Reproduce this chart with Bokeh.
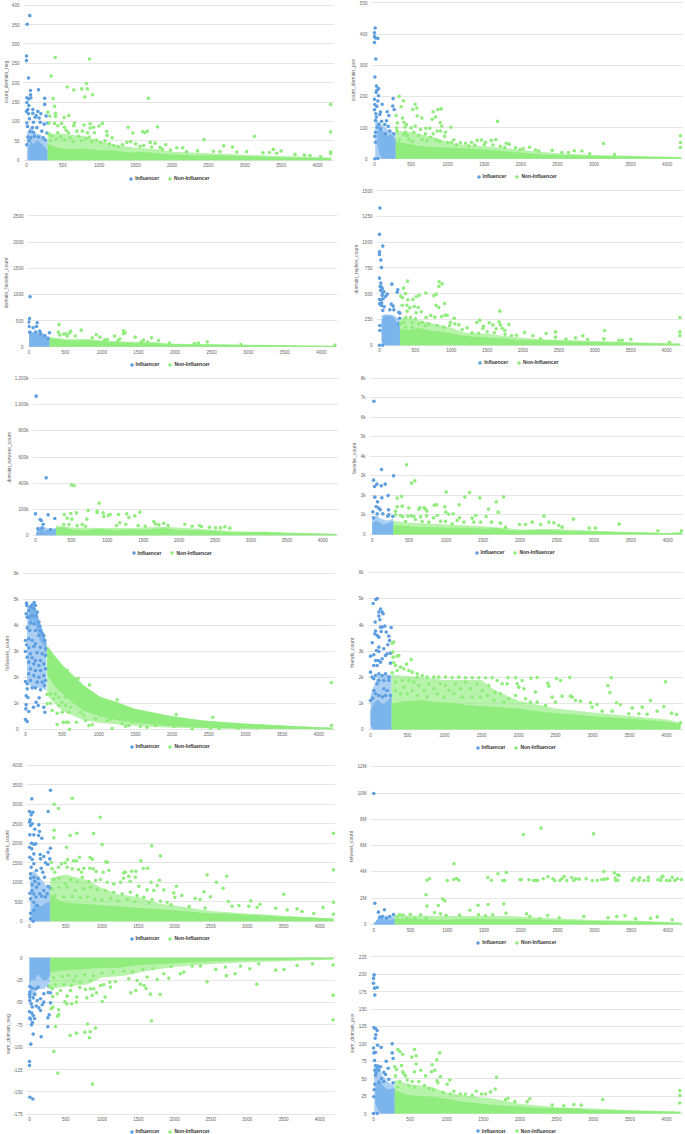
from bokeh.plotting import figure
from bokeh.models import Range1d, FixedTicker, Legend, LegendItem, Title
from bokeh.layouts import row, column
from bokeh.embed import file_html
from bokeh.resources import INLINE

SERIES = ["Influencer", "Non-Influencer"]
X_TICKS = [0, 500, 1000, 1500, 2000, 2500, 3000, 3500, 4000]

# ---- points are (x, y); fills are (x, low, high) for regions too dense to separate;
# ---- haze rows are (x, low, high) for the speckled, half-covered regions around them
P1_NAME = "count_domain_neg"
P1_TICKS = [0, 50, 100, 150, 200, 250, 300, 350, 400]
P1_LABELS = ["0", "50", "100", "150", "200", "250", "300", "350", "400"]
P1_INF = [(45,373),(10,351),(0,269),(0,257),(27,212),(55,180),(165,182),(250,160),(250,144),(55,169),(32,158),(5,161),(60,161),(5,149),(32,141),(18,131),(0,126),(27,120),(87,131),(87,121),(155,126),(197,120),(270,114),(133,115),(120,111),(174,109),(41,107),(96,98),(188,98),(293,96),(243,93),(5,96),(14,87),(82,84),(142,84),(210,75),(96,72),(50,74),(280,70),(20,60),(60,58),(110,62),(165,60),(230,58),(5,40),(260,52),(35,50)]
P1_NON = [(394,265),(866,261),(339,217),(824,198),(559,189),(650,181),(760,184),(838,184),(801,163),(907,169),(366,159),(385,139),(398,121),(293,124),(320,114),(398,113),(582,115),(517,110),(1676,160),(4181,144),(4181,73),(1800,86),(1397,85),(1461,70),(1594,74),(1626,71),(1662,75),(2441,53),(3133,62),(3394,28),(3499,24),(4181,21),(4181,17),(2830,34),(2711,37),(660,96),(650,89),(792,91),(875,94),(921,85),(998,88),(1044,95),(875,83),(311,96),(385,95),(430,89),(481,95),(522,85),(692,75),(769,75),(545,77),(577,71),(838,71),(934,71),(1104,74),(1108,64),(1177,58),(430,71),(311,68),(348,62),(1914,40),(1768,44),(1837,33),(2066,32),(2148,32),(2570,23),(2890,21),(3027,22),(3339,20),(3440,18),(3691,15),(3820,13),(3898,12),(4044,9),(330,50),(410,55),(470,60),(520,52),(600,58),(640,48),(720,62),(755,50),(815,56),(860,60),(900,48),(960,52),(1020,45),(1080,50),(1140,42),(1200,38),(1260,35),(1320,40),(1380,46),(1430,48),(1500,42),(1560,36),(1610,38),(1700,46),(1720,34),(1870,28),(1980,26),(2200,22),(2350,24),(2660,22),(3250,19)]
P1_INF_FILL = [(25,0,30),(60,0,48),(100,0,42),(150,0,52),(190,0,46),(230,0,38),(270,0,28),(290,0,26)]
P1_NON_FILL = [(290,0,42),(400,0,34),(500,0,30),(620,0,28),(800,0,30),(1000,0,26),(1200,0,25),(1400,0,20),(1600,0,22),(1800,0,17),(2000,0,15),(2300,0,13),(2600,0,13),(3000,0,10),(3300,0,9),(3600,0,7),(4000,0,6),(4190,0,5)]
P1_INF_HAZE = [(5,0,70),(50,0,85),(120,0,70),(200,0,65),(290,0,50)]
P1_NON_HAZE = [(290,0,68),(500,0,68),(800,0,62),(1000,0,50),(1200,0,40),(1500,0,32),(1800,0,28),(2000,0,22),(2500,0,18),(3000,0,14),(3500,0,11),(4190,0,7)]

P2_NAME = "count_domain_pos"
P2_TICKS = [0, 100, 200, 300, 400, 500]
P2_LABELS = ["0", "100", "200", "300", "400", "500"]
P2_INF = [(9,419),(0,404),(0,392),(46,386),(14,387),(0,373),(18,320),(5,262),(27,233),(55,225),(32,219),(23,213),(55,202),(255,193),(0,191),(46,185),(105,175),(5,174),(32,168),(250,169),(269,158),(0,157),(173,151),(82,150),(18,144),(196,139),(73,142),(27,134),(164,122),(96,120),(14,123),(5,0),(46,1),(59,110),(141,110),(187,104),(36,101),(82,96),(210,89),(264,80),(150,80),(14,85),(14,53),(5,72)]
P2_NON = [(337,200),(396,186),(556,175),(364,167),(579,163),(524,158),(866,158),(911,160),(802,151),(296,139),(583,137),(647,131),(834,134),(788,127),(383,131),(1681,120),(401,117),(437,110),(898,116),(314,115),(920,105),(1043,101),(301,99),(415,101),(4182,74),(4182,52),(4182,36),(3130,49),(2729,26),(2834,25),(556,105),(501,99),(702,98),(756,98),(629,94),(857,89),(538,85),(310,89),(424,85),(902,89),(970,85),(697,80),(802,80),(446,75),(401,78),(606,75),(765,69),(957,72),(1084,61),(1052,53),(1326,53),(1403,59),(1462,60),(1517,53),(1595,59),(1658,62),(1800,50),(1840,47),(1244,50),(1175,51),(1927,35),(2032,32),(2118,37),(2428,27),(2246,25),(340,60),(470,62),(520,56),(650,62),(720,58),(840,60),(890,55),(1000,52),(1120,44),(1290,42),(1370,44),(1500,45),(1620,44),(1720,40),(1780,36),(1990,30),(2200,28),(2560,20),(2650,20),(2940,16),(3280,14)]
P2_INF_FILL = [(40,45,85),(70,15,105),(100,0,95),(140,0,80),(180,0,72),(220,0,80),(260,0,70),(290,0,62)]
P2_NON_FILL = [(290,0,55),(420,0,50),(600,0,42),(800,0,38),(1000,0,36),(1200,0,34),(1500,0,30),(1700,0,26),(2000,0,20),(2300,0,14),(2600,0,12),(2900,0,10),(3200,0,9),(3500,0,8),(3800,0,6),(4190,0,5)]
P2_INF_HAZE = [(10,0,135),(50,0,120),(100,0,110),(200,0,90),(290,0,80)]
P2_NON_HAZE = [(290,0,90),(500,0,85),(800,0,70),(1000,0,55),(1200,0,45),(1500,0,40),(1800,0,35),(2000,0,28),(2500,0,18),(3000,0,12),(3500,0,10),(4190,0,6)]

P3_NAME = "domain_favorite_count"
P3_TICKS = [0, 500, 1000, 1500, 2000, 2500, 3000]
P3_LABELS = ["0", "500", "1000", "1500", "2000", "2500", "3000"]
P3_INF = [(14,2640),(18,954),(9,541),(0,471),(114,458),(5,388),(105,388),(59,363),(150,299),(95,280),(282,267),(164,248),(218,216),(14,280),(264,153)]
P3_NON = [(414,426),(718,318),(405,280),(573,299),(559,261),(1295,305),(1318,267),(1295,248),(423,223),(477,242),(505,248),(527,204),(636,204),(923,229),(973,184),(868,172),(1173,204),(1455,184),(1677,172),(1568,127),(1245,153),(2441,95),(1773,121),(1923,70),(2264,64),(2318,70),(4186,32),(1073,140),(1036,134),(1218,121),(1536,89),(1627,89),(2900,45)]
P3_INF_FILL = [(5,0,275),(60,0,265),(110,0,240),(150,0,255),(200,0,215),(240,0,190),(285,0,170)]
P3_NON_FILL = [(285,0,165),(400,0,150),(500,0,125),(650,0,115),(800,0,130),(1000,0,105),(1150,0,90),(1300,0,85),(1500,0,70),(1750,0,75),(1850,0,50),(2100,0,48),(2500,0,42),(3000,0,36),(3500,0,28),(3800,0,22),(4190,0,18)]
P3_INF_HAZE = [(5,0,290),(100,0,280),(200,0,240),(285,0,190)]
P3_NON_HAZE = [(285,0,185),(500,0,150),(800,0,150),(1000,0,125),(1300,0,100),(1700,0,85),(2000,0,60),(3000,0,40),(4190,0,20)]

P4_NAME = "domain_replies_count"
P4_TICKS = [0, 250, 500, 750, 1000, 1250, 1500]
P4_LABELS = ["0", "250", "500", "750", "1000", "1250", "1500"]
P4_INF = [(5,1330),(0,1075),(46,961),(0,906),(0,880),(19,825),(28,754),(0,650),(19,602),(172,592),(255,537),(246,514),(9,570),(37,547),(107,495),(84,472),(0,443),(51,450),(163,398),(190,379),(200,343),(144,343),(65,372),(0,401),(28,385),(269,320),(283,311),(279,262),(46,336),(269,207),(0,0),(46,0),(28,563),(14,531),(37,482),(5,191),(5,142),(60,520),(45,505),(20,440),(30,410)]
P4_NON = [(390,621),(832,615),(873,595),(827,570),(335,553),(646,505),(790,495),(362,502),(757,479),(553,485),(511,469),(297,476),(321,460),(395,440),(465,443),(906,404),(790,388),(827,366),(316,388),(381,388),(483,375),(539,366),(423,362),(1677,330),(581,324),(386,330),(511,314),(715,288),(4186,269),(915,291),(943,291),(367,269),(432,269),(650,269),(771,272),(864,278),(1041,262),(1398,243),(1357,220),(1528,217),(1668,226),(1803,200),(1686,197),(1580,197),(1450,184),(1440,162),(1626,159),(1710,165),(1747,142),(2453,129),(2323,113),(3136,142),(4186,129),(4186,91),(2021,123),(1909,97),(1840,94),(2834,91),(2732,71),(2137,91),(3503,58),(2244,61),(2453,78),(3127,61),(3336,45),(3382,48),(4042,29),(990,223),(1050,207),(1106,197),(1222,168),(976,191),(1152,152),(688,207),(595,223),(502,255),(455,223),(548,207),(339,223),(293,207),(455,175),(641,191),(804,191),(897,175),(362,175),(1290,120),(1380,115),(1500,130),(1600,120),(1750,105),(2600,60),(2900,55)]
P4_INF_FILL = [(30,40,240),(60,10,290),(100,0,285),(150,0,290),(200,0,270),(240,0,220),(285,0,180)]
P4_NON_FILL = [(285,0,160),(400,0,145),(550,0,170),(700,0,140),(850,0,130),(1000,0,115),(1150,0,95),(1300,0,85),(1500,0,75),(1700,0,65),(2000,0,50),(2300,0,48),(2600,0,40),(3000,0,32),(3300,0,28),(3700,0,20),(4190,0,14)]
P4_INF_HAZE = [(30,0,290),(100,0,300),(200,0,290),(285,0,240)]
P4_NON_HAZE = [(285,0,270),(500,0,250),(800,0,200),(1000,0,170),(1200,0,120),(1500,0,110),(1800,0,85),(2200,0,60),(3000,0,40),(3700,0,25),(4190,0,17)]

P5_NAME = "domain_retweet_count"
P5_TICKS = [0, 200, 400, 600, 800, 1000, 1200]
P5_LABELS = ["0", "200k", "400k", "600k", "800k", "1,000k", "1,200k"]
P5_INF = [(9,1067),(148,440),(0,164),(176,156),(65,120),(79,113),(269,128),(107,84),(32,49),(93,54),(209,44)]
P5_NON = [(501,386),(538,379),(886,246),(1452,177),(733,189),(858,184),(858,174),(571,171),(492,166),(399,159),(942,171),(1039,159),(1155,159),(1271,164),(1383,148),(1299,136),(951,143),(1016,151),(715,123),(506,123),(441,130),(1647,105),(1786,92),(1174,95),(1257,84),(1847,74),(2079,84),(2283,74),(2181,69),(2311,67),(2422,61),(2506,56),(2575,56),(2635,64),(2705,54),(1527,69),(394,82),(464,82),(580,74),(650,82),(696,69),(1128,74),(1429,74),(1670,87),(1717,79)]
P5_INF_FILL = [(5,0,10),(30,0,50),(60,0,48),(85,0,60),(120,0,30),(180,0,45),(230,0,36),(285,0,50)]
P5_NON_FILL = [(285,0,58),(400,0,62),(500,0,42),(700,0,36),(870,0,50),(1000,0,42),(1150,0,36),(1300,0,46),(1500,0,40),(1780,0,55),(2000,0,38),(2300,0,38),(2500,0,32),(2750,0,22),(3200,0,26),(3500,0,16),(4000,0,12),(4190,0,10)]
P5_INF_HAZE = [(30,0,60),(85,0,70),(180,0,50),(285,0,55)]
P5_NON_HAZE = [(285,0,75),(500,0,60),(900,0,55),(1300,0,55),(1800,0,65),(2500,0,42),(2750,0,30),(3500,0,20),(4190,0,12)]

P6_NAME = "favorite_count"
P6_TICKS = [0, 1000, 2000, 3000, 4000, 5000, 6000, 7000, 8000]
P6_LABELS = ["0", "1k", "2k", "3k", "4k", "5k", "6k", "7k", "8k"]
P6_INF = [(23,6824),(126,3327),(289,3003),(18,2781),(63,2576),(176,2576),(32,2457),(122,2491),(216,1996),(36,1911),(131,1877),(72,1672),(54,1433),(90,1348),(108,1262),(221,1262),(9,1160),(68,1058),(144,1058),(225,1007),(280,921),(212,938),(18,853)]
P6_NON = [(465,3565),(577,2747),(532,2627),(1001,2167),(1317,2150),(1254,1911),(1457,1877),(1777,1928),(1678,1672),(397,1945),(338,1860),(1177,1518),(839,1501),(870,1518),(983,1416),(338,1416),(406,1450),(496,1365),(631,1297),(645,1365),(703,1365),(721,1297),(739,1194),(1574,1297),(1705,1143),(996,1143),(1037,1040),(1096,1058),(316,1194),(316,1007),(383,973),(528,955),(483,938),(415,904),(654,904),(735,955),(879,973),(564,921),(586,768),(830,853),(1182,853),(1403,973),(1353,836),(1542,921),(2323,938),(2724,785),(3342,529),(2390,631),(2458,597),(2165,631),(1993,512),(2278,512),(2526,461),(2571,375),(2936,324),(3022,324),(3865,188),(4185,188),(992,682),(1150,716),(1240,631),(1375,631),(1466,631),(1615,631),(1736,580),(2075,512),(1804,375),(1082,546),(451,665),(767,631),(925,682),(676,665)]
P6_INF_FILL = [(0,0,600),(60,0,720),(100,0,620),(150,0,480),(200,0,560),(285,0,680)]
P6_NON_FILL = [(285,0,480),(450,0,430),(600,0,380),(800,0,390),(1000,0,340),(1300,0,350),(1500,0,300),(1700,0,330),(1850,0,200),(2000,0,190),(2300,0,260),(2500,0,210),(2700,0,170),(3000,0,170),(3300,0,110),(3600,0,110),(4000,0,60),(4190,0,110)]
P6_INF_HAZE = [(0,0,800),(60,0,1000),(100,0,850),(200,0,700),(285,0,800)]
P6_NON_HAZE = [(285,0,700),(500,0,600),(800,0,550),(1100,0,500),(1500,0,420),(1800,0,330),(2000,0,260),(2500,0,280),(3000,0,190),(3500,0,130),(4000,0,80),(4190,0,120)]

P7_NAME = "followers_count"
P7_TICKS = [0, 1000, 2000, 3000, 4000, 5000, 6000]
P7_LABELS = ["0", "1k", "2k", "3k", "4k", "5k", "6k"]
P7_INF = [(14,4867),(118,4893),(18,4777),(91,4803),(136,4777),(68,4713),(114,4648),(45,4584),(9,4455),(159,4519),(145,4365),(91,4391),(45,4326),(23,4326),(182,4133),(195,3979),(114,4069),(68,4107),(23,3914),(59,3811),(136,3811),(205,3811),(227,3683),(250,3618),(182,3618),(45,3489),(0,3425),(91,3425),(264,3425),(14,3258),(136,3296),(45,3142),(114,3193),(205,3167),(0,3000),(273,3103),(68,2910),(159,2949),(227,2910),(273,2846),(23,2781),(91,2756),(136,2652),(205,2652),(45,2588),(114,2524),(182,2459),(250,2524),(68,2331),(136,2266),(205,2266),(273,2331),(45,2137),(114,2073),(182,2009),(250,2073),(0,1841),(68,1880),(159,1816),(227,1816),(273,1880),(23,1751),(91,1597),(136,1597),(205,1519),(259,1687),(23,1558),(9,1288),(32,1223),(186,1210),(145,1043),(9,940),(173,914),(109,850),(250,850),(5,785),(45,682),(264,657),(0,373),(23,296)]
P7_NON = [(4172,1803),(718,1970),(873,1712),(568,2266),(1250,1133),(2554,464),(2054,567),(4172,142),(600,0),(1182,26),(295,1339),(295,979),(341,1004),(364,721),(432,180),(514,270),(555,270),(582,270),(432,618),(500,657),(591,657),(614,850),(695,270),(750,657),(795,528),(864,142),(909,167),(818,335),(955,399),(1023,528),(1114,335),(1159,399),(1318,206),(1364,103),(1409,142),(1455,270),(1568,103),(1659,77),(1773,142),(1886,206),(2023,103),(2273,13),(2523,39),(341,1365),(409,1365),(455,1236),(500,1043),(545,1236),(636,1172),(682,1043),(727,1172),(818,914),(886,785),(386,1172),(455,914),(545,914),(977,657),(1068,657),(1182,528),(1273,464),(2640,30),(2900,40),(3150,45)]
P7_INF_FILL = [(50,3900,4780),(100,4200,4820),(150,3900,4600),(200,3400,4050),(250,3200,3700),(285,2800,3350)]
P7_NON_FILL = [(295,2100,3232),(386,1700,2846),(568,1200,2266),(795,700,1687),(1023,500,1236),(1250,350,1043),(1477,250,785),(1932,130,528),(2386,60,335),(2841,30,245),(3295,10,167),(3750,5,103),(4190,0,55)]
P7_INF_HAZE = [(20,1800,4800),(100,1600,4700),(200,1600,4000),(285,1500,3350)]
P7_NON_HAZE = [(295,1300,3232),(500,700,2500),(800,350,1687),(1000,250,1280),(1500,120,785),(2000,60,500),(2500,30,320),(3000,15,215),(4190,0,55)]

P8_NAME = "friends_count"
P8_TICKS = [0, 1000, 2000, 3000, 4000, 5000, 6000]
P8_LABELS = ["0", "1k", "2k", "3k", "4k", "5k", "6k"]
P8_INF = [(90,5018),(72,4980),(36,4827),(135,4610),(113,4495),(158,4495),(171,4431),(113,4342),(126,4201),(63,4112),(135,3920),(194,3959),(279,3908),(158,3920),(68,3767),(144,3754),(212,3729),(59,3665),(90,3601),(113,3537),(248,3576),(23,3320),(257,3410),(234,3244),(180,3090),(113,3154),(81,3026),(113,2988),(0,2809),(45,2861),(203,2835),(225,2899),(270,2924),(158,2707),(68,2643),(104,2643),(135,2579),(270,2541),(45,2452),(90,2452),(0,2196),(23,2005),(68,2068),(113,2132),(158,2068),(203,2132),(248,2005),(45,1941),(113,1877),(180,1877),(90,1749),(248,1877),(45,1494),(225,1494),(180,1558),(113,1303),(0,1111),(68,1366),(270,1303),(30,1200),(160,1250),(205,1300)]
P8_NON = [(315,3346),(293,3307),(302,2963),(360,2809),(383,2835),(306,2771),(550,2682),(486,2503),(315,2554),(338,2452),(405,2388),(450,2324),(518,2260),(360,2260),(293,2171),(563,2196),(631,2132),(631,2005),(698,2068),(766,2005),(856,2005),(923,2005),(1014,2005),(1104,1979),(1194,2005),(1284,1979),(1374,1979),(1464,1979),(1554,1979),(1644,1979),(1856,1979),(1960,1979),(2050,1877),(2167,1966),(2253,1992),(2514,1954),(2568,1877),(2694,1992),(3253,1979),(3987,1826),(3208,1686),(3235,1417),(2397,1775),(2410,1660),(2230,1430),(1982,1749),(2005,1622),(2072,1558),(1847,1749),(1779,1749),(1712,1877),(3784,1111),(3325,1022),(3379,945),(2973,1022),(2996,856),(3063,958),(2726,1239),(2771,1111),(2838,1085),(2455,1239),(2590,1277),(2703,1277),(2365,920),(3536,817),(3672,856),(3964,881),(3874,702),(3491,600),(3627,600),(3739,587),(4068,626),(4136,575),(4190,255),(3131,702),(3266,702),(338,1813),(428,1877),(518,1877),(586,1813),(450,1622),(563,1494),(653,1686),(721,1494),(788,1749),(856,1558),(946,1749),(1014,1686),(1059,1494),(1149,1749),(1216,1558),(1284,1813),(1351,1558),(1441,1749),(1509,1494),(1599,1686),(1680,1430),(1757,1366),(1870,1175),(1960,1303),(2095,1175),(2162,1047),(338,1494),(405,1366),(495,1366),(631,1303),(766,1239),(901,1366),(991,1239),(1126,1366),(1239,1239),(1374,1239),(1486,1239),(1577,1303),(1667,1111),(1802,1047),(2253,1047),(2500,1047)]
P8_INF_FILL = [(0,150,700),(40,0,1000),(100,0,1150),(170,0,950),(230,0,1100),(285,0,1250)]
P8_NON_FILL = [(285,0,1000),(450,0,1080),(700,0,1120),(900,0,1040),(1100,0,1030),(1300,0,930),(1500,0,900),(1700,0,860),(2000,0,800),(2250,0,700),(2500,0,620),(2800,0,560),(3000,0,510),(3300,0,450),(3500,0,420),(3800,0,340),(4000,0,300),(4190,0,220)]
P8_INF_HAZE = [(0,0,1300),(100,0,2100),(200,0,2100),(285,0,2100)]
P8_NON_HAZE = [(285,0,2100),(700,0,2000),(1000,0,1900),(1500,0,1900),(1680,0,1500),(2000,0,1100),(2500,0,800),(3000,0,650),(3500,0,520),(4000,0,380),(4190,0,260)]

P9_NAME = "replies_count"
P9_TICKS = [0, 500, 1000, 1500, 2000, 2500, 3000, 3500, 4000]
P9_LABELS = ["0", "500", "1000", "1500", "2000", "2500", "3000", "3500", "4000"]
P9_INF = [(289,3359),(32,3137),(0,2812),(257,2812),(46,2795),(23,2727),(9,2598),(0,2547),(37,2496),(14,2453),(129,2470),(73,2359),(138,2299),(5,2214),(60,2214),(124,2197),(170,2128),(28,2000),(60,1974),(87,1983),(0,1897),(32,1855),(289,1872),(257,1769),(147,1709),(60,1726),(197,1658),(5,1641),(280,1598),(37,1581),(152,1598),(220,1496),(253,1453),(60,1470),(161,1359),(23,1385),(96,1299),(184,1256),(14,1214),(119,1103),(207,1128),(60,1128),(14,1103),(257,897),(289,846),(37,932),(129,957),(96,872),(197,786),(5,718),(60,701),(142,701),(14,60),(51,0),(14,205),(60,273),(106,402),(243,701),(60,487),(14,573),(170,640),(90,620),(35,780),(75,1020),(220,620)]
P9_NON = [(4188,2256),(4188,1316),(4188,487),(4188,179),(588,3154),(340,3000),(400,2889),(974,2667),(340,2333),(335,2137),(560,2197),(652,2256),(882,2248),(1001,1966),(510,1897),(1685,1932),(1805,1675),(689,1641),(836,1632),(868,1590),(523,1581),(606,1547),(647,1547),(1052,1521),(1074,1513),(1534,1547),(1570,1350),(1630,1359),(303,1504),(312,1342),(491,1496),(441,1470),(400,1385),(349,1256),(1093,1308),(831,1359),(877,1342),(748,1359),(675,1325),(588,1342),(519,1385),(716,1256),(918,1273),(1015,1256),(1322,1256),(1299,1239),(1405,1282),(1465,1282),(1368,1154),(1460,1128),(1295,1103),(1387,1026),(1676,1000),(1791,1051),(2447,1188),(2576,1000),(2718,1154),(2668,846),(3504,692),(2025,897),(2406,752),(3049,521),(3178,436),(2282,590),(2351,555),(2493,624),(2741,504),(1988,726),(2098,658),(2002,615),(1759,914),(1851,803),(1713,786),(1621,803),(1506,897),(1254,1000),(1162,957),(1070,1000),(978,1068),(909,1043),(817,1017),(726,1128),(657,1017),(565,1068),(496,957),(404,1103),(335,1068),(312,829),(404,872),(519,872),(634,786),(748,829),(840,872),(932,803),(1047,786),(1162,744),(1277,701),(1391,744),(1483,658),(1575,615),(1690,555),(1805,513),(1897,487),(3550,290),(3687,316),(3756,248),(4045,350),(3917,197),(3393,333),(3022,385),(3136,359),(2884,402),(2792,385),(350,650),(470,620),(590,640),(700,600),(800,620),(900,560),(1000,540),(1120,580),(1220,520),(1350,560),(1450,500),(1650,470),(1950,420),(2200,380),(2420,340)]
P9_INF_FILL = [(30,0,230),(60,0,420),(100,0,460),(160,0,380),(220,0,470),(285,0,480)]
P9_NON_FILL = [(285,0,700),(400,0,540),(500,0,470),(800,0,440),(1000,0,400),(1200,0,390),(1500,0,340),(1750,0,310),(2000,0,280),(2250,0,240),(2500,0,200),(2750,0,200),(3000,0,160),(3300,0,140),(3500,0,115),(3800,0,100),(4000,0,85),(4190,0,60)]
P9_INF_HAZE = [(10,0,1200),(60,0,1300),(150,0,1100),(285,0,800)]
P9_NON_HAZE = [(285,0,1100),(500,0,1200),(800,0,1050),(1000,0,850),(1200,0,700),(1500,0,620),(1800,0,450),(2000,0,400),(2500,0,260),(3000,0,200),(3500,0,140),(4190,0,70)]

P10_NAME = "retweet_count"
P10_TICKS = [0, 2, 4, 6, 8, 10, 12]
P10_LABELS = ["0", "2M", "4M", "6M", "8M", "10M", "12M"]
P10_INF = [(0,9.97),(14,1.62),(63,.94),(145,1.12),(172,.48),(217,.61),(267,.76),(81,.56),(118,.61)]
P10_NON = [(2274,7.33),(2034,6.85),(2988,6.9),(1089,4.62),(3128,4.03),(3272,3.93),(3318,3.78),(3336,3.73),(1803,3.96),(1690,3.86),(1550,3.58),(1600,3.37),(1754,3.35),(1781,3.35),(723,3.37),(759,3.48),(999,3.35),(1089,3.42),(1125,3.5),(1157,3.37),(1989,3.42),(2007,3.4),(2111,3.4),(2174,3.35),(2206,3.35),(2228,3.35),(2305,3.48),(2368,3.63),(2436,3.48),(2463,3.35),(2531,3.35),(2558,3.48),(2590,3.65),(2626,3.35),(2694,3.58),(2721,3.35),(2748,3.48),(2793,3.45),(2888,3.48),(2974,3.35),(3042,3.35),(3101,3.42),(3137,3.45),(3178,3.48),(3282,3.53),(3291,3.35),(3318,3.35),(3517,3.35),(3539,3.53),(3598,3.42),(3616,3.55),(3607,3.35),(3675,3.35),(3734,3.6),(3734,3.35),(3865,3.4),(3905,3.35),(3914,3.6),(3932,3.68),(3982,3.35),(4027,3.35),(4059,3.6),(4095,3.35),(4131,3.48),(4186,3.42),(710,2.26),(723,1.4),(936,1.95),(967,1.8),(877,1.45),(1419,1.47),(1555,1.52),(1767,1.57),(1306,1.09),(827,.91),(909,.81),(985,.68),(1166,.71),(1424,.74),(1519,.66),(1618,.74),(1799,.86),(2079,.81),(2124,.61),(2364,.68),(2857,.61),(3187,.51),(3304,.61),(3417,.66),(3562,.43),(3765,.48),(3856,.58),(4059,.36),(353,.76),(398,.71),(497,.76),(637,.74),(316,.58),(443,.43),(560,.48),(714,.48),(2522,.51),(2260,.43)]
P10_INF_FILL = [(0,0,.15),(30,0,.2),(60,0,.5),(110,0,.55),(150,0,.3),(200,0,.35),(285,0,.42)]
P10_NON_FILL = [(285,0,.42),(500,0,.45),(700,0,.38),(1000,0,.36),(1300,0,.45),(1500,0,.42),(1800,0,.38),(2000,0,.42),(2250,0,.36),(2500,0,.32),(2750,0,.3),(3000,0,.26),(3250,0,.22),(3500,0,.22),(3750,0,.2),(4000,0,.16),(4190,0,.1)]
P10_INF_HAZE = [(30,0,.3),(110,0,.7),(285,0,.6)]
P10_NON_HAZE = [(285,0,.7),(1000,0,.65),(1800,0,.65),(2500,0,.45),(3000,0,.35),(3500,0,.3),(4190,0,.15)]

P11_NAME = "sum_domain_neg"
P11_TICKS = [0, -25, -50, -75, -100, -125, -150, -175]
P11_LABELS = ["0", "-25", "-50", "-75", "-100", "-125", "-150", "-175"]
P11_INF = [(5,-156),(46,-158),(0,-116),(0,-120.5),(18,-96.6),(51,-85.4),(161,-88.4),(253,-77.2),(28,-75),(41,-72.4),(69,-67.9),(5,-67.5),(271,-63.8),(253,-67.2),(0,-60.4),(32,-61.9),(51,-64.5),(14,-68.7),(152,-59),(92,-54),(129,-56),(37,-55),(175,-52.6),(197,-49.6),(289,-50.4),(5,-44),(51,-44.8),(106,-47.8),(152,-45.9),(23,-51.5),(5,-47.8),(197,-40.3),(257,-38.8),(289,-39.2),(73,-40.7),(5,-38.4),(5,-32),(37,-34),(92,-34.7),(266,-32),(119,-32.8),(0,-41)]
P11_NON = [(868,-141.4),(390,-129),(335,-104.8),(4183,-69.4),(1681,-70.5),(799,-74.2),(358,-76.9),(909,-78.7),(560,-86.9),(647,-84.3),(762,-83.2),(836,-82.8),(827,-89.5),(400,-58.2),(404,-63.4),(386,-65.3),(321,-55.2),(298,-57),(4183,-41.8),(2447,-26.9),(3132,-29.5),(1800,-41),(1667,-40.7),(1396,-39.2),(1465,-36.6),(1607,-34.3),(1580,-31),(1529,-29.5),(1919,-23),(2714,-20),(2833,-17.9),(3035,-12.3),(3393,-13.8),(3508,-13),(2567,-13),(4183,-8),(3899,-6.7),(1001,-48.9),(1042,-44),(790,-44.8),(652,-44),(647,-49.6),(519,-42.9),(583,-51.5),(514,-51.5),(487,-49.2),(381,-40.3),(321,-43.3),(275,-31.7),(312,-34.7),(427,-36.6),(574,-31),(565,-36.6),(693,-33.2),(771,-35.4),(840,-34.7),(886,-34.7),(923,-39.2),(863,-42),(978,-31),(1116,-32.8),(1107,-27.2),(1024,-30.2),(703,-27.2),(473,-30.2),(358,-30.2),(611,-25.4),(840,-25.4),(1185,-26.5),(1368,-23.5),(1483,-25.4),(1621,-21.6),(1759,-24.3),(1851,-17.9),(2080,-17.9),(2126,-16),(2241,-9.3),(2356,-9.3),(2700,-10.4),(2907,-9.3),(3159,-6.7),(3687,-8.6),(330,-22),(450,-21),(540,-20),(640,-21),(760,-19),(880,-20),(1000,-17),(1150,-16),(1300,-15),(1420,-16),(1560,-13),(1700,-12),(1950,-10)]
P11_INF_FILL = [(0,-30,0),(30,-24,0),(70,-26,0),(120,-18,0),(170,-24,0),(220,-26,0),(285,-20,0)]
P11_NON_FILL = [(285,-16,0),(500,-14,0),(700,-13,0),(1000,-11,0),(1250,-11,0),(1500,-8,0),(1800,-7,0),(2000,-6,0),(2300,-5,0),(2500,-4,0),(3000,-3,0),(3500,-2.5,0),(3800,-2,0),(4190,-1.5,0)]
P11_INF_HAZE = [(0,-40,0),(50,-45,0),(100,-35,0),(200,-35,0),(285,-28,0)]
P11_NON_HAZE = [(285,-35,0),(500,-32,0),(800,-30,0),(1000,-22,0),(1300,-20,0),(1600,-15,0),(2000,-10,0),(2500,-7,0),(3000,-5,0),(3500,-4,0),(4190,-2,0)]

P12_NAME = "sum_domain_pos"
P12_TICKS = [0, 25, 50, 75, 100, 125, 150, 175, 200, 225]
P12_LABELS = ["0", "25", "50", "75", "100", "125", "150", "175", "200", "225"]
P12_INF = [(9,199),(0,194),(0,187),(14,180),(50,181),(18,170),(5,123),(27,122),(50,119),(32,113),(23,108),(255,100),(55,98),(105,95),(0,94),(27,88),(255,87),(5,87),(268,79),(173,75),(14,76),(200,65),(27,69),(96,67),(50,64),(73,62),(18,62),(141,59),(164,56),(27,55),(209,49),(268,44),(73,45),(9,34),(5,24),(0,0),(50,0),(35,58),(60,68),(20,42),(110,50),(140,46)]
P12_NON = [(4181,33),(4181,26),(4181,15),(3130,20),(1679,52),(1661,35),(2134,21),(560,92),(332,92),(359,89),(396,85),(905,87),(523,81),(582,83),(864,77),(582,71),(801,70),(382,69),(291,67),(314,63),(646,62),(560,60),(400,60),(414,57),(837,62),(792,60),(710,54),(914,53),(300,54),(437,54),(869,47),(1042,48),(878,44),(528,46),(460,48),(619,46),(1006,42),(359,46),(696,40),(1097,32),(1597,31),(1401,32),(1188,28),(1256,28),(1347,26),(1474,28),(1529,28),(1838,22),(1802,20),(1929,17),(2098,17),(2439,12),(2735,13),(2835,12),(2598,11),(330,38),(480,40),(560,38),(760,36),(820,34),(950,30),(1050,28)]
P12_INF_FILL = [(25,14,36),(60,6,45),(100,0,44),(150,0,38),(200,0,34),(250,0,36),(290,0,36)]
P12_NON_FILL = [(290,0,34),(450,0,27),(600,0,25),(800,0,24),(1000,0,21),(1200,0,17),(1500,0,14),(1700,0,12),(2000,0,10),(2250,0,8),(2500,0,8),(2800,0,7),(3000,0,5),(3500,0,4),(4000,0,3),(4190,0,2)]
P12_INF_HAZE = [(10,0,70),(60,0,70),(120,0,55),(200,0,45),(290,0,40)]
P12_NON_HAZE = [(290,0,48),(500,0,42),(800,0,38),(1000,0,30),(1300,0,25),(1600,0,22),(2000,0,14),(2500,0,9),(3000,0,7),(3500,0,5),(4190,0,3)]

# ---- layout, in page pixels
COL_X = [0, 345]
COL_W = [345, 340]
ROW_Y = [0, 184, 372, 560, 752, 948, 1134]
LABEL_X = [5, 352, 3, 354, 7, 352, 6, 350, 6, 350, 6, 351]
BLUE, GREEN, BLUE_DOT = "#7cb5ec", "#90ed7d", "#5c9ee0"
FONT = "Liberation Sans"

P = [
 (P1_NAME,P1_TICKS,P1_LABELS,(400,4.7),(0,159.7),26,317,23,334,130.7,178,P1_INF,P1_NON,P1_INF_FILL,P1_NON_FILL,P1_INF_HAZE,P1_NON_HAZE),
 (P2_NAME,P2_TICKS,P2_LABELS,(500,2.3),(0,158.3),374,666.7,371,683,478,176,P2_INF,P2_NON,P2_INF_FILL,P2_NON_FILL,P2_INF_HAZE,P2_NON_HAZE),
 (P3_NAME,P3_TICKS,P3_LABELS,(2500,215.3),(0,346.3),27.3,320.7,26,337,130,364.3,P3_INF,P3_NON,P3_INF_FILL,P3_NON_FILL,P3_INF_HAZE,P3_NON_HAZE),
 (P4_NAME,P4_TICKS,P4_LABELS,(1500,190),(0,344.7),379,666,376,683,479.7,362,P4_INF,P4_NON,P4_INF_FILL,P4_NON_FILL,P4_INF_HAZE,P4_NON_HAZE),
 (P5_NAME,P5_TICKS,P5_LABELS,(1200,378.3),(0,534.7),35,322.3,32,338,133,552.7,P5_INF,P5_NON,P5_INF_FILL,P5_NON_FILL,P5_INF_HAZE,P5_NON_HAZE),
 (P6_NAME,P6_TICKS,P6_LABELS,(8000,377.7),(0,534),371.7,667.3,369,683,476,552,P6_INF,P6_NON,P6_INF_FILL,P6_NON_FILL,P6_INF_HAZE,P6_NON_HAZE),
 (P7_NAME,P7_TICKS,P7_LABELS,(6000,573.3),(0,728.7),25,318.3,22,335,131,746.3,P7_INF,P7_NON,P7_INF_FILL,P7_NON_FILL,P7_INF_HAZE,P7_NON_HAZE),
 (P8_NAME,P8_TICKS,P8_LABELS,(6000,572.3),(0,729),370,666,367,683,477,747.3,P8_INF,P8_NON,P8_INF_FILL,P8_NON_FILL,P8_INF_HAZE,P8_NON_HAZE),
 (P9_NAME,P9_TICKS,P9_LABELS,(4000,764.7),(0,920.7),29,319.3,26,335,131,938.3,P9_INF,P9_NON,P9_INF_FILL,P9_NON_FILL,P9_INF_HAZE,P9_NON_HAZE),
 (P10_NAME,P10_TICKS,P10_LABELS,(12,766.3),(0,924),372.3,667.3,369,683,476.7,942.3,P10_INF,P10_NON,P10_INF_FILL,P10_NON_FILL,P10_INF_HAZE,P10_NON_HAZE),
 (P11_NAME,P11_TICKS,P11_LABELS,(0,957.3),(-175,1113.7),29,319.3,26,335,131,1131,P11_INF,P11_NON,P11_INF_FILL,P11_NON_FILL,P11_INF_HAZE,P11_NON_HAZE),
 (P12_NAME,P12_TICKS,P12_LABELS,(225,956.3),(0,1113),373,666,370,683,477.3,1130.7,P12_INF,P12_NON,P12_INF_FILL,P12_NON_FILL,P12_INF_HAZE,P12_NON_HAZE),
]

def panel(i):
    name,ticks,labels,(va,pa),(vb,pb),x0,x4,gl,gr,lx,ly,inf,non,f_inf,f_non,h_inf,h_non = P[i]
    c, r = i % 2, i // 2
    top, bot = ROW_Y[r], ROW_Y[r+1]
    ftop = max(top, int(pa) - 2)
    xs = (x4 - x0) / 4000.0
    ys = (pb - pa) / float(vb - va)
    p = figure(width=COL_W[c], height=bot-top, output_backend="svg", toolbar_location=None,
               frame_align=False,
               x_range=Range1d((gl-x0)/xs, (gr-x0)/xs),
               y_range=Range1d(va+(bot-pa)/ys, va+(ftop-pa)/ys),
               min_border_left=gl-COL_X[c], min_border_right=COL_X[c]+COL_W[c]-gr,
               min_border_top=ftop-top, min_border_bottom=0,
               outline_line_color=None, border_fill_color="white", background_fill_color="white")
    xa = p.xaxis[0]
    xa.fixed_location = vb
    xa.ticker = FixedTicker(ticks=X_TICKS)
    xa.major_label_overrides = {t: str(t) for t in X_TICKS}
    ya = p.yaxis[0]
    ya.ticker = FixedTicker(ticks=ticks)
    ya.major_label_overrides = dict(zip(ticks, labels))
    for ax in (xa, ya):
        ax.axis_line_color = None
        ax.major_tick_line_color = None
        ax.minor_tick_line_color = None
        ax.major_tick_in = 0
        ax.major_tick_out = 0
        ax.minor_tick_in = 0
        ax.minor_tick_out = 0
        ax.major_label_text_font = FONT
        ax.major_label_text_font_size = "4.6px"
        ax.major_label_text_color = "#666666"
    xa.major_label_standoff = 3
    ya.major_label_standoff = 4
    p.xgrid.visible = False
    p.ygrid.grid_line_color = "#e6e6e6"
    p.ygrid.grid_line_width = 1

    # side title instead of axis label, so it stays centred on the gridlines, not the taller frame
    text_len = 2.56 * len(name)
    tick_w = 2.56 * max(len(s) for s in labels)
    gap = max(0, (gl - COL_X[c]) - 4 - tick_w - (LABEL_X[i] - COL_X[c] + 2.5) - 4)
    t = Title(text=name, align="left", offset=bot - ((pa + pb) / 2.0 + text_len / 2.0), text_font=FONT,
              text_font_size="5px", text_font_style="normal", text_color="#666666", standoff=gap)
    p.add_layout(t, "left")

    for haze, col in ((h_inf, BLUE), (h_non, GREEN)):
        p.varea(x=[a[0] for a in haze], y1=[a[1] for a in haze], y2=[a[2] for a in haze], fill_color=col, fill_alpha=0.65)
    for fill, col in ((f_inf, BLUE), (f_non, GREEN)):
        p.varea(x=[a[0] for a in fill], y1=[a[1] for a in fill], y2=[a[2] for a in fill], fill_color=col)
    r_i = p.scatter([a[0] for a in inf], [a[1] for a in inf], size=3.6, fill_color=BLUE_DOT, line_color=None)
    r_n = p.scatter([a[0] for a in non], [a[1] for a in non], size=3.6, fill_color=GREEN, line_color=None)

    leg = Legend(items=[LegendItem(label=SERIES[0], renderers=[r_i]), LegendItem(label=SERIES[1], renderers=[r_n])],
                 orientation="horizontal", location=(lx-4.5-gl, bot-ly-4.5),
                 glyph_width=9, glyph_height=9, label_standoff=0, spacing=6, padding=0, margin=0,
                 label_text_font=FONT, label_text_font_size="5px", label_text_font_style="bold",
                 label_text_color="#333333", label_height=9, label_text_line_height=1,
                 background_fill_alpha=0, border_line_color=None)
    p.add_layout(leg, "center")
    return p

figs = [panel(i) for i in range(12)]
layout = column(*[row(figs[i], figs[i+1], spacing=0) for i in range(0, 12, 2)], spacing=0,
                styles={"position": "absolute", "left": "0px", "top": "0px"})
open("out.html", "w").write(file_html(layout, INLINE))
